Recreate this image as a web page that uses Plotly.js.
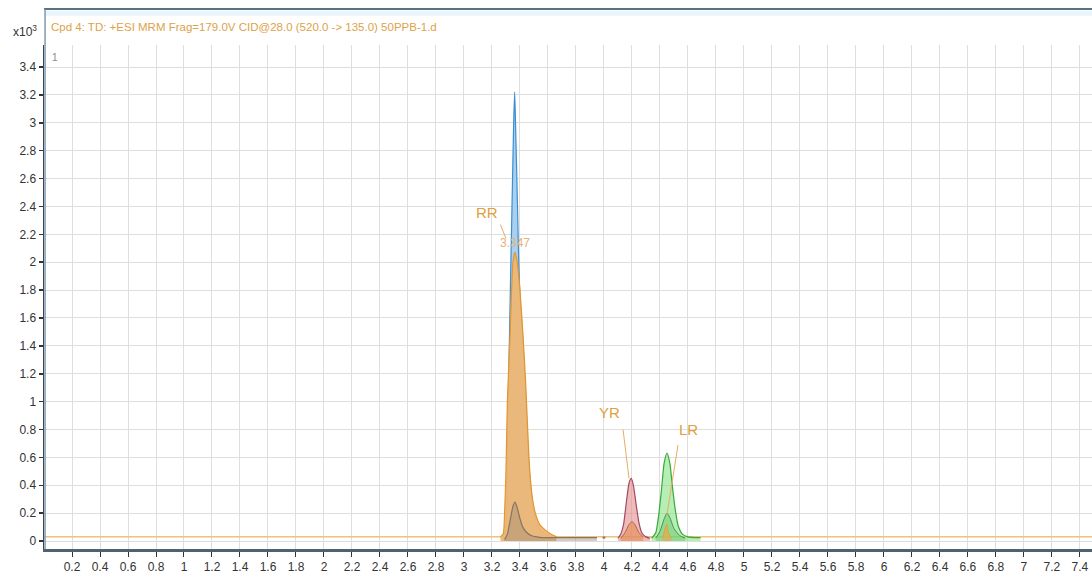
<!DOCTYPE html>
<html>
<head>
<meta charset="utf-8">
<script src="https://cdn.plot.ly/plotly-3.0.1.min.js"></script>
<style>html,body{margin:0;padding:0;background:#fff;}#chart{width:1092px;height:579px;}</style>
</head>
<body>
<div id="chart"></div>
<script>
// ---- data (intensities in x10^3 counts) ----
const baseX = [0, 7.49];
const baseY = [0.03, 0.03];

const rrBlueX = [3.28, 3.30, 3.31, 3.32, 3.335, 3.345, 3.355, 3.362, 3.368, 3.38, 3.39, 3.40, 3.42, 3.44, 3.46, 3.48, 3.50, 3.53, 3.58, 3.62];
const rrBlueY = [0.02, 0.10, 0.60, 1.20, 2.00, 2.50, 3.00, 3.22, 3.00, 2.50, 2.05, 1.75, 1.45, 1.05, 0.60, 0.35, 0.20, 0.10, 0.05, 0.03];

const rrOrangeX = [3.26, 3.28, 3.29, 3.30, 3.31, 3.33, 3.35, 3.365, 3.38, 3.40, 3.42, 3.44, 3.455, 3.47, 3.49, 3.51, 3.54, 3.58, 3.62, 3.66];
const rrOrangeY = [0.03, 0.05, 0.20, 0.50, 1.00, 1.50, 2.00, 2.07, 2.00, 1.80, 1.50, 1.15, 0.80, 0.50, 0.30, 0.20, 0.12, 0.08, 0.05, 0.03];

const rrGrayX = [3.29, 3.31, 3.33, 3.35, 3.365, 3.38, 3.40, 3.42, 3.45, 3.48, 3.52, 3.56, 3.60, 3.95];
const rrGrayY = [0.01, 0.05, 0.15, 0.25, 0.28, 0.24, 0.16, 0.10, 0.06, 0.04, 0.03, 0.025, 0.025, 0.025];

const dotX = [3.99, 4.01];
const dotY = [0.025, 0.025];

const yrX = [4.10, 4.12, 4.14, 4.16, 4.18, 4.195, 4.21, 4.23, 4.25, 4.27, 4.30, 4.33];
const yrY = [0.02, 0.05, 0.12, 0.28, 0.42, 0.45, 0.40, 0.26, 0.13, 0.06, 0.03, 0.02];

const yrInnerX = [4.12, 4.15, 4.18, 4.20, 4.22, 4.25, 4.28];
const yrInnerY = [0.02, 0.06, 0.12, 0.14, 0.12, 0.06, 0.03];

const lrX = [4.34, 4.37, 4.39, 4.41, 4.43, 4.45, 4.47, 4.49, 4.51, 4.53, 4.56, 4.60, 4.65, 4.69];
const lrY = [0.02, 0.06, 0.18, 0.36, 0.56, 0.63, 0.56, 0.38, 0.22, 0.11, 0.05, 0.03, 0.025, 0.025];

const lrInnerX = [4.37, 4.40, 4.43, 4.45, 4.47, 4.50, 4.54, 4.58];
const lrInnerY = [0.02, 0.07, 0.16, 0.20, 0.17, 0.09, 0.04, 0.02];

const lrOrangeX = [4.42, 4.44, 4.45, 4.46, 4.48];
const lrOrangeY = [0.02, 0.10, 0.12, 0.06, 0.02];

const xTickVals = [0.2,0.4,0.6,0.8,1,1.2,1.4,1.6,1.8,2,2.2,2.4,2.6,2.8,3,3.2,3.4,3.6,3.8,4,4.2,4.4,4.6,4.8,5,5.2,5.4,5.6,5.8,6,6.2,6.4,6.6,6.8,7,7.2,7.4];
const xTickText = ["0.2","0.4","0.6","0.8","1","1.2","1.4","1.6","1.8","2","2.2","2.4","2.6","2.8","3","3.2","3.4","3.6","3.8","4","4.2","4.4","4.6","4.8","5","5.2","5.4","5.6","5.8","6","6.2","6.4","6.6","6.8","7","7.2","7.4"];
const yTickVals = [0,0.2,0.4,0.6,0.8,1,1.2,1.4,1.6,1.8,2,2.2,2.4,2.6,2.8,3,3.2,3.4];
const yTickText = ["0","0.2","0.4","0.6","0.8","1","1.2","1.4","1.6","1.8","2","2.2","2.4","2.6","2.8","3","3.2","3.4"];

const titleText = "Cpd 4: TD: +ESI MRM Frag=179.0V CID@28.0 (520.0 -> 135.0) 50PPB-1.d";
const peakLabels = [
  {text: "RR", x: 3.164, y: 2.36},
  {text: "3.347", x: 3.364, y: 2.14},
  {text: "YR", x: 4.036, y: 0.92},
  {text: "LR", x: 4.607, y: 0.80}
];
const leaders = [
  {x0: 3.26, y0: 2.27, x1: 3.30, y1: 2.17},
  {x0: 4.136, y0: 0.80, x1: 4.179, y1: 0.45},
  {x0: 4.529, y0: 0.69, x1: 4.45, y1: 0.19}
];

// ---- chart ----
const fam = "Liberation Sans, Arial, sans-serif";
function area(x, y, line, fill, w) {
  return {x: x, y: y, type: 'scatter', mode: 'lines', fill: 'tozeroy',
          line: {color: line, width: w || 1, shape: 'spline', smoothing: 0.6},
          fillcolor: fill, hoverinfo: 'skip', showlegend: false};
}
const traces = [
  {x: baseX, y: baseY, type: 'scatter', mode: 'lines', line: {color: '#EBC27E', width: 1.5}, showlegend: false, hoverinfo: 'skip'},
  area(rrBlueX, rrBlueY, '#3D8FD1', 'rgba(164,206,240,0.95)', 1.2),
  area(rrOrangeX, rrOrangeY, '#E4962E', 'rgba(238,182,116,0.95)', 1.2),
  area(rrGrayX, rrGrayY, '#857565', 'rgba(160,140,120,0.45)', 1.2),
  {x: dotX, y: dotY, type: 'scatter', mode: 'lines', line: {color: '#857565', width: 2}, showlegend: false, hoverinfo: 'skip'},
  area(yrX, yrY, '#A24A63', 'rgba(228,140,140,0.6)', 1.2),
  area(yrInnerX, yrInnerY, '#B8653E', 'rgba(226,140,80,0.6)', 1),
  area(lrX, lrY, '#3BA83B', 'rgba(120,225,120,0.55)', 1.2),
  area(lrInnerX, lrInnerY, '#4E8E4E', 'rgba(110,200,110,0.5)', 1),
  area(lrOrangeX, lrOrangeY, '#E0A040', 'rgba(235,170,80,0.7)', 1)
];

const annotations = [
  {xref: 'paper', yref: 'paper', x: 0.0045, y: 1.0, xanchor: 'left', yanchor: 'middle', yshift: 18,
   text: titleText, showarrow: false, font: {family: fam, size: 11.5, color: '#DDA24A'}},
  {xref: 'paper', yref: 'paper', x: 0, y: 1.0, xanchor: 'right', yanchor: 'middle', xshift: -5, yshift: 14,
   text: "x10<sup>3</sup>", showarrow: false, font: {family: fam, size: 12, color: '#333'}},
  {xref: 'paper', yref: 'paper', x: 0.0055, y: 1.0, xanchor: 'left', yanchor: 'middle', yshift: -12,
   text: "1", showarrow: false, font: {family: fam, size: 10, color: '#888'}}
];
peakLabels.forEach(function (p, i) {
  annotations.push({x: p.x, y: p.y, xref: 'x', yref: 'y', text: p.text, showarrow: false,
    font: {family: fam, size: i === 1 ? 12 : 15, color: i === 1 ? '#E6B274' : '#E0A040'}});
});

const shapes = [
  {type: 'rect', xref: 'paper', yref: 'paper', x0: 0.001, x1: 1, y0: 1.058, y1: 1.068, line: {width: 0}, fillcolor: '#EAF5FB', layer: 'below'},
  {type: 'line', xref: 'paper', yref: 'paper', x0: 0, x1: 1, y0: 1.0714, y1: 1.0714, line: {color: '#5B7083', width: 2}},
  {type: 'line', xref: 'paper', yref: 'paper', x0: 0.001, x1: 0.001, y0: 1.0714, y1: 0, line: {color: '#7E9AB0', width: 1.5}}
];
leaders.forEach(function (l) {
  shapes.push({type: 'line', xref: 'x', yref: 'y', x0: l.x0, y0: l.y0, x1: l.x1, y1: l.y1, line: {color: '#E6AE60', width: 1}});
});

const layout = {
  width: 1092, height: 579,
  margin: {l: 44, r: 0, t: 45, b: 30, pad: 0},
  paper_bgcolor: '#ffffff', plot_bgcolor: '#ffffff',
  showlegend: false,
  xaxis: {range: [0, 7.486], tickmode: 'array', tickvals: xTickVals, ticktext: xTickText,
          showgrid: true, gridcolor: '#DEDEDE', gridwidth: 1, zeroline: false,
          showline: true, linecolor: '#4F6272', linewidth: 3,
          ticks: 'outside', ticklen: 5, tickcolor: '#333', tickwidth: 1,
          tickfont: {family: fam, size: 12, color: '#333'}, fixedrange: true},
  yaxis: {range: [-0.057, 3.558], tickmode: 'array', tickvals: yTickVals, ticktext: yTickText,
          showgrid: true, gridcolor: '#DEDEDE', gridwidth: 1, zeroline: false,
          showline: true, linecolor: '#3A4550', linewidth: 1.5,
          ticks: 'outside', ticklen: 4, tickcolor: '#333', tickwidth: 1.5,
          tickfont: {family: fam, size: 12, color: '#333'}, fixedrange: true},
  annotations: annotations,
  shapes: shapes
};

Plotly.newPlot('chart', traces, layout, {displayModeBar: false, staticPlot: true});
</script>
</body>
</html>
